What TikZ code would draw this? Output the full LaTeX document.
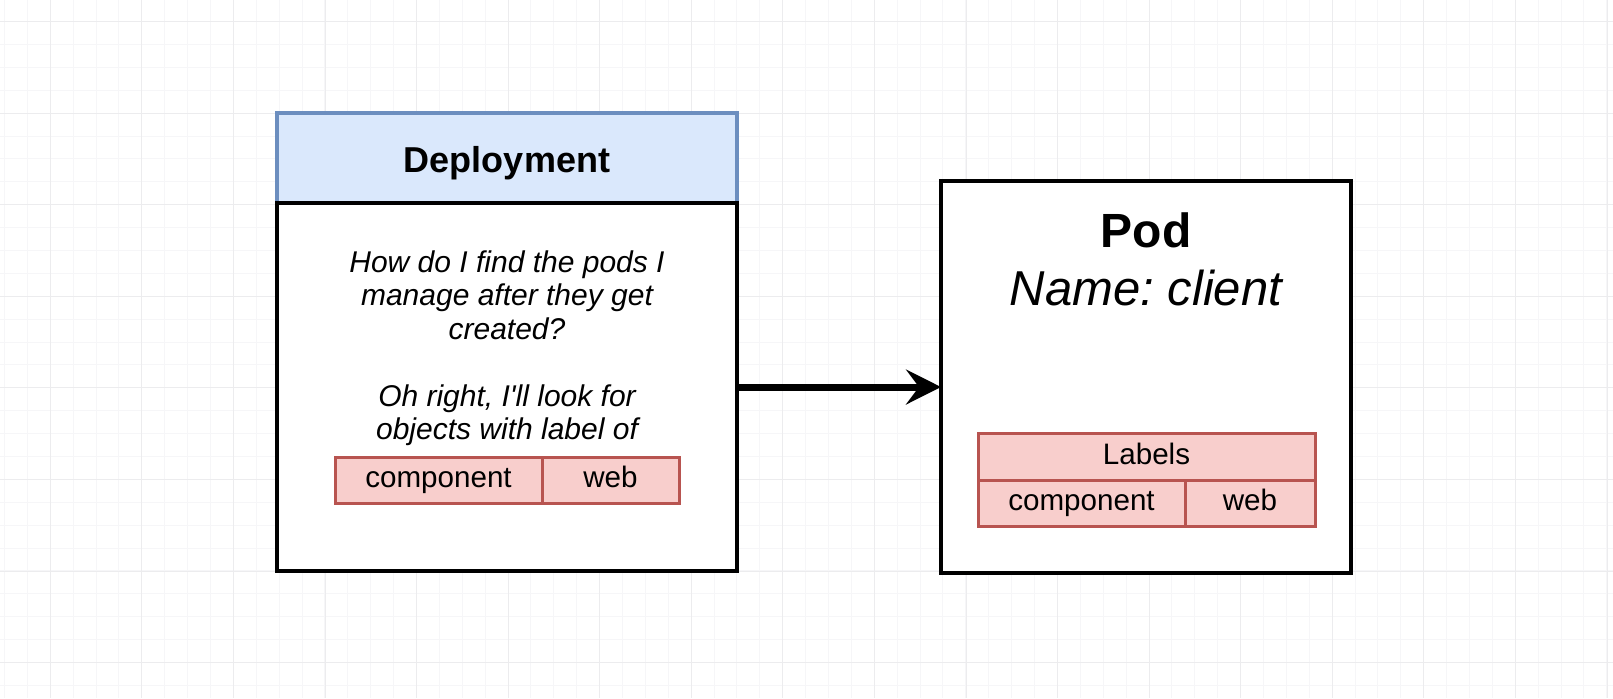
\documentclass[tikz,border=0pt]{standalone}
\usepackage{fontspec}
\setmainfont{Liberation Sans}
\usetikzlibrary{arrows.meta, positioning, calc}

\definecolor{headfill}{HTML}{DAE8FC}
\definecolor{headline}{HTML}{6C8EBF}
\definecolor{labfill}{HTML}{F8CECC}
\definecolor{labline}{HTML}{B85450}
\definecolor{gridminor}{HTML}{F6F6F8}
\definecolor{gridmajor}{HTML}{ECECEE}

\begin{document}
\frenchspacing
\begin{tikzpicture}[x=0.5pt, y=-0.5pt, node distance=0pt,
  header/.style={draw=headline, fill=headfill, line width=1.75pt, outer sep=0pt,
                 minimum width=230pt, minimum height=45pt,
                 text height=14.4pt, text depth=0pt,
                 font=\fontsize{18pt}{20pt}\selectfont\bfseries},
  box/.style={draw, fill=white, line width=2pt, outer sep=0pt},
  labelbox/.style={draw=labline, fill=labfill, line width=1.5pt, outer sep=0pt,
                   inner sep=0pt, minimum height=23pt,
                   text height=10.6pt, text depth=3.1pt,
                   font=\fontsize{14.8pt}{16pt}\selectfont},
  note/.style={align=center, font=\fontsize{15pt}{16.75pt}\selectfont\itshape},
  arrow/.style={-{Stealth[length=17.5pt, width=17.5pt, inset=6.5pt]}, line width=3.5pt}]

  % canvas
  \fill[white] (0,0) rectangle (1613,698);
  \useasboundingbox (0,0) rectangle (1613,698);
  \foreach \i in {0,...,70} {
    \pgfmathsetmacro\gx{4.5+22.89*\i}
    \draw[gridminor, line width=0.5pt] (\gx,0) -- (\gx,698);
  }
  \foreach \j in {0,...,29} {
    \pgfmathsetmacro\gy{21.6+22.89*\j}
    \draw[gridminor, line width=0.5pt] (0,\gy) -- (1613,\gy);
  }
  \foreach \i in {0,...,17} {
    \pgfmathsetmacro\gx{50.3+91.57*\i}
    \draw[gridmajor, line width=0.5pt] (\gx,0) -- (\gx,698);
  }
  \foreach \j in {0,...,7} {
    \pgfmathsetmacro\gy{21.6+91.57*\j}
    \draw[gridmajor, line width=0.5pt] (0,\gy) -- (1613,\gy);
  }

  % deployment
  \node[header] (dephead) at (507,158) {Deployment};
  \node[box, minimum width=230pt, minimum height=184pt, below=of dephead] (depbody) {};
  \node[note] (question) at (507,348)
    {How do I find the pods I\\manage after they get\\created?\\[16.75pt]Oh right, I\textquotesingle ll look for\\objects with label of};
  \node[labelbox, minimum width=103.5pt, anchor=north west] (depcomp) at (335,457) {component};
  \node[labelbox, minimum width=68.5pt, right=of depcomp] (depweb) {web};

  % pod
  \node[box, minimum width=205pt, minimum height=196pt, right=102pt of depbody, yshift=5pt] (pod) {};
  \node[font=\fontsize{24pt}{26pt}\selectfont\bfseries] (podtitle) at (1146,230) {Pod};
  \node[font=\fontsize{24.5pt}{27pt}\selectfont\itshape] (podname) at (1146,288) {Name: client};
  \node[labelbox, minimum width=168.5pt, minimum height=23.5pt, anchor=north] (podlabels) at (1146.5,433) {Labels};
  \node[labelbox, minimum width=103.5pt, below right=of podlabels.south west] (podcomp) {component};
  \node[labelbox, minimum width=65pt, right=of podcomp] (podweb) {web};

  \draw[arrow] (depbody.east) -- (depbody.east -| pod.west);
\end{tikzpicture}
\end{document}
